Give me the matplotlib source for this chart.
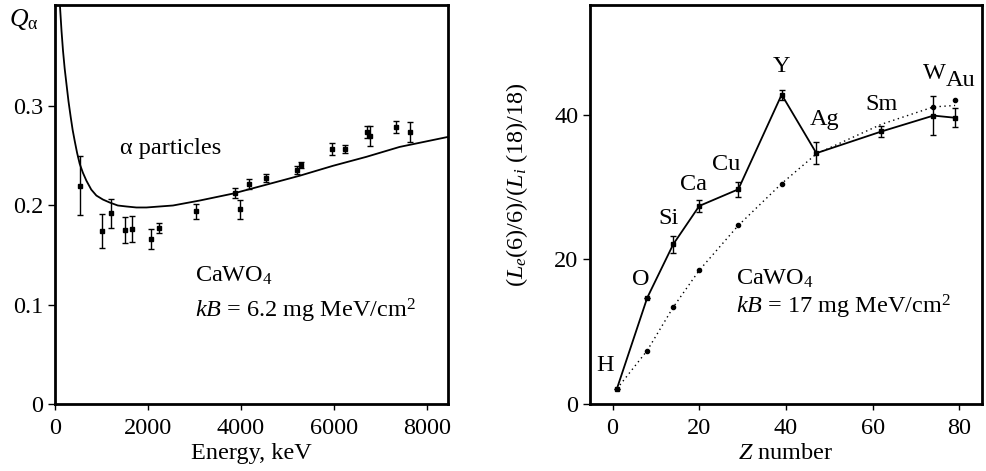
import matplotlib
matplotlib.use("Agg")
import matplotlib.pyplot as plt

plt.rcParams['font.family'] = ['Liberation Serif', 'DejaVu Serif']
plt.rcParams['mathtext.fontset'] = 'custom'
plt.rcParams['mathtext.rm'] = 'Liberation Serif'
plt.rcParams['mathtext.it'] = 'Liberation Serif:italic'
plt.rcParams['mathtext.bf'] = 'Liberation Serif:bold'

# left panel: quenching factor of alpha particles
alpha_energy = [530, 1010, 1213, 1505, 1664, 2058, 2237, 3040, 3870, 3972,
                4172, 4546, 5213, 5284, 5957, 6244, 6718, 6768, 7333, 7634]
alpha_q = [0.220, 0.174, 0.192, 0.175, 0.176, 0.166, 0.177, 0.194, 0.213, 0.196,
           0.222, 0.228, 0.236, 0.241, 0.257, 0.257, 0.274, 0.270, 0.279, 0.274]
alpha_err = [0.030, 0.017, 0.015, 0.013, 0.013, 0.010, 0.005, 0.008, 0.005, 0.010,
             0.005, 0.004, 0.004, 0.003, 0.006, 0.004, 0.006, 0.010, 0.006, 0.010]

model_energy = [108, 140, 172, 208, 245, 290, 338, 380, 424, 475, 531, 600, 675,
                780, 890, 1030, 1176, 1350, 1535, 1750, 1966, 2250, 2537, 3112,
                3828, 4546, 5262, 5978, 6693, 7409, 8440]
model_q = [0.400, 0.376, 0.356, 0.338, 0.323, 0.305, 0.289, 0.276, 0.265, 0.253,
           0.242, 0.233, 0.225, 0.216, 0.210, 0.206, 0.203, 0.200, 0.199, 0.198,
           0.198, 0.199, 0.200, 0.205, 0.212, 0.221, 0.230, 0.240, 0.249, 0.259, 0.269]

# right panel: light yield ratio vs Z
elements = ['H', 'O', 'Si', 'Ca', 'Cu', 'Y', 'Ag', 'Sm', 'W', 'Au']
z_num = [1, 8, 14, 20, 29, 39, 47, 62, 74, 79]
ratio_meas = [2.1, 14.7, 22.1, 27.4, 29.7, 42.8, 34.7, 37.7, 39.9, 39.6]
ratio_err = [0, 0, 1.2, 0.8, 1.0, 0.7, 1.5, 0.8, 2.7, 1.3]

calc_line_val = [2.1, 7.4, 13.4, 18.5, 24.7, 30.5, 34.6, 38.7, 41.1, 41.3]
calc_dot_z = [8, 14, 20, 29, 39, 74, 79]
calc_dot_val = [7.4, 13.4, 18.5, 24.7, 30.5, 41.1, 42.1]

label_pos = {'H': (-1.8, 5.3), 'O': (6.4, 17.2), 'Si': (12.8, 25.6), 'Ca': (18.7, 30.3),
             'Cu': (26.1, 33.2), 'Y': (38.9, 46.7), 'Ag': (48.9, 39.3), 'Sm': (62, 41.5),
             'W': (74.3, 45.7), 'Au': (80.2, 44.8)}

fig = plt.figure(figsize=(9.87, 4.71), dpi=100)
fs = 17.5

ax1 = fig.add_axes([55 / 987, 67 / 471, 393 / 987, 399 / 471])
ax1.plot(model_energy, model_q, color='black', lw=1.3)
ax1.errorbar(alpha_energy, alpha_q, yerr=alpha_err, fmt='s', color='black',
             ms=3.5, elinewidth=1.0, capsize=2.5, capthick=1.0)
ax1.set_xlim(0, 8450)
ax1.set_ylim(0, 0.402)
ax1.set_xticks([0, 2000, 4000, 6000, 8000])
ax1.set_yticks([0, 0.1, 0.2, 0.3])
ax1.set_yticklabels(['0', '0.1', '0.2', '0.3'])
ax1.set_xlabel('Energy, keV', fontsize=fs, labelpad=3)
ax1.text(1390, 0.257, 'α particles', fontsize=fs, va='center')
ax1.text(3000, 0.129, r'CaWO$_4$', fontsize=fs, va='center')
ax1.text(3000, 0.094, r'$kB$ = 6.2 mg MeV/cm$^2$', fontsize=fs, va='center')
fig.text(9 / 987, 1 - 20 / 471, r'$Q_{\mathrm{α}}$', fontsize=fs + 1, va='center')

ax2 = fig.add_axes([590 / 987, 67 / 471, 392 / 987, 399 / 471])
ax2.plot(z_num, calc_line_val, color='black', lw=1.0, ls=(0, (1, 2.5)))
ax2.plot(calc_dot_z, calc_dot_val, 'o', color='black', ms=3)
ax2.errorbar(z_num, ratio_meas, yerr=ratio_err, fmt='-s', color='black', lw=1.3,
             ms=3.5, elinewidth=1.0, capsize=2.5, capthick=1.0)
for el in elements:
    x, y = label_pos[el]
    ax2.text(x, y, el, fontsize=fs, ha='center', va='center')
ax2.set_xlim(-5.2, 85.2)
ax2.set_ylim(0, 55.2)
ax2.set_xticks([0, 20, 40, 60, 80])
ax2.set_yticks([0, 20, 40])
ax2.set_xlabel('$Z$ number', fontsize=fs, labelpad=3)
ax2.set_ylabel('($L_e$(6)/6)/($L_i$ (18)/18)', fontsize=fs)
ax2.yaxis.set_label_coords(-0.152, 0.549)
ax2.text(28.5, 17.3, r'CaWO$_4$', fontsize=fs, va='center')
ax2.text(28.5, 13.4, r'$kB$ = 17 mg MeV/cm$^2$', fontsize=fs, va='center')

for ax in (ax1, ax2):
    for sp in ax.spines.values():
        sp.set_linewidth(2.0)
    ax.tick_params(axis='x', direction='out', length=4, width=1.0, labelsize=fs, pad=6)
    ax.tick_params(axis='y', direction='out', length=5, width=1.0, labelsize=fs, pad=3.5)

fig.savefig('out.png', dpi=100)
